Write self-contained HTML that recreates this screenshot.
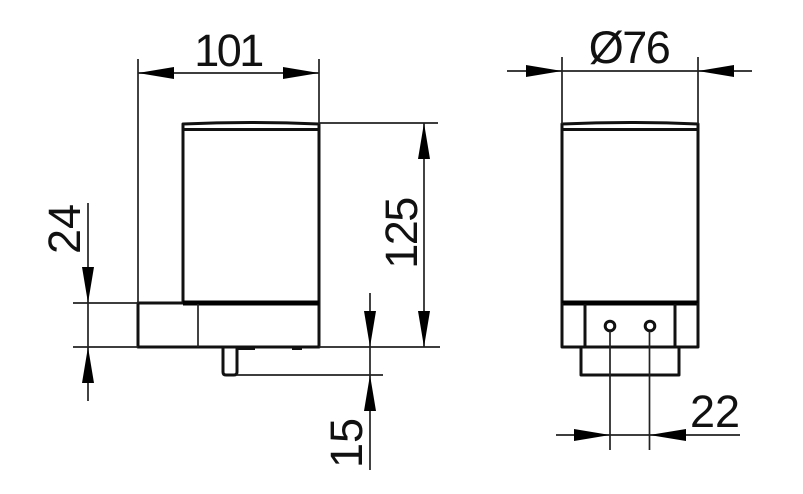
<!DOCTYPE html>
<html>
<head>
<meta charset="utf-8">
<style>
html,body{margin:0;padding:0;background:#fff;}
svg{display:block;}
text{font-family:"Liberation Sans",sans-serif;font-size:45px;fill:#111;}
.d{stroke:#222;stroke-width:1.7;fill:none;}
.o{stroke:#111;stroke-width:3;fill:none;stroke-linejoin:round;}
.a{fill:#000;stroke:none;}
</style>
</head>
<body>
<svg width="803" height="494" viewBox="0 0 803 494" xmlns="http://www.w3.org/2000/svg">
<!-- LEFT VIEW -->
<path class="o" d="M183 303V124Q250 121 319 124V347H138V303H319"/>
<path class="o" d="M183 129.500H319"/>
<path d="M183 303H319" stroke="#000" stroke-width="5"/>
<path class="d" d="M198 304V347"/>
<path class="o" d="M223 348V372Q223 375 226 375H234Q237 375 237 372V348"/>
<path d="M237 348.500H255M292 348.500H302" stroke="#111" stroke-width="3"/>
<!-- left dimension lines -->
<path class="d" d="M138 59V303M319 59V124"/>
<path class="d" d="M138 73H319"/>
<path class="a" d="M138 73L174 67V79Z"/>
<path class="a" d="M319 73L283 67V79Z"/>
<path class="d" d="M319 123H438M319 347H440"/>
<path class="d" d="M424 123V347"/>
<path class="a" d="M424 123L418 159H430Z"/>
<path class="a" d="M424 347L418 311H430Z"/>
<path class="d" d="M73 303H138M73 347H138"/>
<path class="d" d="M88 203V401"/>
<path class="a" d="M88 303L82 267H94Z"/>
<path class="a" d="M88 347L82 383H94Z"/>
<path class="d" d="M237 375H383"/>
<path class="d" d="M370 293V470"/>
<path class="a" d="M370 347L364 311H376Z"/>
<path class="a" d="M370 375L364 411H376Z"/>
<!-- RIGHT VIEW -->
<path class="o" d="M562 303V124Q630 121 698 124V303"/>
<path class="o" d="M562 129.500H698"/>
<path d="M562 303H698" stroke="#000" stroke-width="5"/>
<path class="o" d="M562 303V347H698V303"/>
<path class="o" d="M585 304V347M675 304V347"/>
<path class="o" d="M581 347V375H679V347"/>
<circle cx="610" cy="326" r="4.800" fill="#fff" stroke="#111" stroke-width="3"/>
<circle cx="650" cy="326" r="4.800" fill="#fff" stroke="#111" stroke-width="3"/>
<path class="d" d="M562 57V124M698 57V124"/>
<path class="d" d="M507 71H752"/>
<path class="a" d="M562 71L526 65V77Z"/>
<path class="a" d="M698 71L734 65V77Z"/>
<path class="d" d="M610 331V450M649.500 331V450"/>
<path class="d" d="M556 435H740"/>
<path class="a" d="M610 435L574 429V441Z"/>
<path class="a" d="M649.500 435L686 429V441Z"/>
<!-- LABELS -->
<text x="228" y="66" text-anchor="middle" letter-spacing="-2.500">101</text>
<text x="629" y="63" text-anchor="middle" letter-spacing="-1.500">Ø76</text>
<text x="715" y="427" text-anchor="middle">22</text>
<text transform="translate(417 233.500) rotate(-90)" text-anchor="middle" letter-spacing="-1.500">125</text>
<text transform="translate(80 229) rotate(-90)" text-anchor="middle">24</text>
<text transform="translate(362 443) rotate(-90)" text-anchor="middle">15</text>
</svg>
</body>
</html>
